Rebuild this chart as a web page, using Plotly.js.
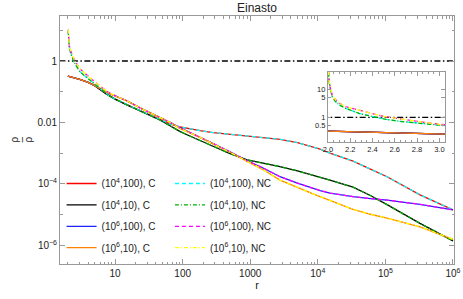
<!DOCTYPE html>
<html><head><meta charset="utf-8">
<script src="https://cdn.plot.ly/plotly-3.0.1.min.js"></script>
<style>html,body{margin:0;padding:0;background:#fff}#chart{width:463px;height:299px}</style>
</head><body><div id="chart"></div>
<script>
// ---- data ----
const rC = [2, 2.5, 3, 4, 5, 7.5, 10, 15, 25, 46, 65, 92, 130, 181, 282, 503, 897, 1500, 2760, 5000, 8490, 10800, 15100, 33200, 60000, 105700, 325000, 1000000];
const rho_1e4_100_C = [0.324, 0.288, 0.251, 0.200, 0.158, 0.0832, 0.0575, 0.0372, 0.0226, 0.0126, 0.00891, 0.00708, 0.00603, 0.00537, 0.00468, 0.00417, 0.00363, 0.00324, 0.00282, 0.00219, 0.00162, 0.00135, 0.00100, 0.000550, 0.000302, 0.000170, 0.0000437, 0.0000141];
const rho_1e4_10_C  = [0.324, 0.288, 0.251, 0.200, 0.158, 0.0832, 0.0575, 0.0372, 0.0226, 0.0120, 0.00776, 0.00501, 0.00355, 0.00257, 0.00166, 0.000955, 0.000603, 0.000479, 0.000363, 0.000263, 0.000191, 0.000166, 0.000132, 0.0000776, 0.0000417, 0.0000209, 0.00000513, 0.00000138];
const rho_1e6_100_C = [0.324, 0.288, 0.251, 0.200, 0.158, 0.0955, 0.0741, 0.0501, 0.0275, 0.0148, 0.0100, 0.00661, 0.00468, 0.00331, 0.00204, 0.00110, 0.000562, 0.000339, 0.000170, 0.000105, 0.0000708, 0.0000603, 0.0000501, 0.0000380, 0.0000331, 0.0000295, 0.0000214, 0.0000141];
const rho_1e6_10_C  = [0.324, 0.288, 0.251, 0.200, 0.158, 0.0955, 0.0741, 0.0501, 0.0275, 0.0148, 0.0100, 0.00631, 0.00457, 0.00324, 0.00200, 0.00107, 0.000537, 0.000302, 0.000132, 0.0000741, 0.0000468, 0.0000380, 0.0000288, 0.0000148, 0.0000102, 0.00000759, 0.00000398, 0.00000155];

// NC curves: steep rise towards r = 2, then they lie on the C curves (from r = 10 on)
const rNCin = [2.005, 2.01, 2.024, 2.039, 2.07, 2.1, 2.16, 2.22, 2.28, 2.4, 2.52, 2.64, 2.77, 2.9, 3.0, 3.5, 4, 5, 6, 8];
const rho_1e4_NCin = [39.8, 20.0, 9.44, 5.45, 3.61, 2.82, 2.09, 1.66, 1.38, 1.07, 0.851, 0.724, 0.617, 0.525, 0.457, 0.339, 0.263, 0.174, 0.126, 0.0759];
const rho_1e6_NCin = [44.7, 22.4, 10.5, 6.17, 4.17, 3.31, 2.40, 2.04, 1.82, 1.35, 1.05, 0.891, 0.741, 0.631, 0.562, 0.417, 0.316, 0.209, 0.151, 0.0955];
const joinAt = 6; // index of r = 10 in rC
const rNC = rNCin.concat(rC.slice(joinAt));
const rho_1e4_100_NC = rho_1e4_NCin.concat(rho_1e4_100_C.slice(joinAt));
const rho_1e4_10_NC  = rho_1e4_NCin.concat(rho_1e4_10_C.slice(joinAt));
const rho_1e6_100_NC = rho_1e6_NCin.concat(rho_1e6_100_C.slice(joinAt));
const rho_1e6_10_NC  = rho_1e6_NCin.concat(rho_1e6_10_C.slice(joinAt));

// reference level rho = 1
const refR = [1.5, 1100000];
const refRho = [1, 1];

const labelsC  = ['(10<sup>4</sup>,100), C', '(10<sup>4</sup>,10), C', '(10<sup>6</sup>,100), C', '(10<sup>6</sup>,10), C'];
const labelsNC = ['(10<sup>4</sup>,100), NC', '(10<sup>4</sup>,10), NC', '(10<sup>6</sup>,100), NC', '(10<sup>6</sup>,10), NC'];

const xTickVals = [10, 100, 1000, 10000, 100000, 1000000];
const xTickText = ['10', '100', '1000', '10<sup>4</sup>', '10<sup>5</sup>', '10<sup>6</sup>'];
const yTickVals = [1, 0.01, 0.0001, 0.000001];
const yTickText = ['1', '0.01', '10<sup>\u22124</sup>', '10<sup>\u22126</sup>'];
const yMinorVals = [10, 0.1, 0.001, 0.00001];
const insetXTicks = [2.0, 2.2, 2.4, 2.6, 2.8, 3.0];
const insetYTicks = [0.5, 1, 5, 10];
const insetYText = ['0.5', '1', '5', '10'];

// ---- styling ----
const colC = ['#ff0000', '#000000', '#2020ff', '#ff8000'];
const colNC = ['#00ffff', '#00b000', '#ff00ff', '#ffff00'];
const dashNC = ['4px,3px', '4px,2px,1px,2px', '4px,3px', '4px,2px,1px,2px'];
const seriesC = [rho_1e4_100_C, rho_1e4_10_C, rho_1e6_100_C, rho_1e6_10_C];
const seriesNC = [rho_1e4_100_NC, rho_1e4_10_NC, rho_1e6_100_NC, rho_1e6_10_NC];
const mainStart = 2; // main panel NC curves begin at r = 2.024

const xMinor = [];
for (let d = 1; d <= 100000; d *= 10) for (let k = 2; k <= 9; k++) xMinor.push(k * d);

const refDash = '6px,2.5px,1.5px,2.5px';
const traces = [];
traces.push({x: refR, y: refRho, mode: 'lines', line: {color: '#000', width: 1.3, dash: refDash}, showlegend: false, hoverinfo: 'skip'});
seriesC.forEach((s, i) => traces.push({x: rC, y: s, mode: 'lines', name: labelsC[i], legend: 'legend', legendgroup: 'c' + i,
  line: {color: colC[i], width: 1.3}}));
seriesNC.forEach((s, i) => traces.push({x: rNC.slice(mainStart), y: s.slice(mainStart), mode: 'lines', name: labelsNC[i], legend: 'legend2', legendgroup: 'n' + i,
  line: {color: colNC[i], width: 1.3, dash: dashNC[i]}}));
// inset
traces.push({x: refR, y: refRho, xaxis: 'x2', yaxis: 'y2', mode: 'lines', line: {color: '#000', width: 1.3, dash: refDash}, showlegend: false});
seriesC.forEach((s, i) => traces.push({x: rC, y: s, xaxis: 'x2', yaxis: 'y2', mode: 'lines', showlegend: false, line: {color: colC[i], width: 1.3}}));
seriesNC.forEach((s, i) => traces.push({x: rNC, y: s, xaxis: 'x2', yaxis: 'y2', mode: 'lines', showlegend: false, line: {color: colNC[i], width: 1.3, dash: dashNC[i]}}));

const axCol = '#999';
const fontFam = 'Liberation Sans, Arial, sans-serif';
const txtCol = '#222';

const layout = {
  width: 463, height: 299,
  margin: {l: 60, r: 9, t: 16, b: 35},
  paper_bgcolor: '#fff', plot_bgcolor: '#fff',
  font: {family: fontFam, size: 10, color: txtCol},
  title: {text: 'Einasto', font: {size: 12, color: txtCol}, x: 0.5, xref: 'paper', xanchor: 'center', y: 1 - 8 / 299, yref: 'container', yanchor: 'middle'},
  xaxis: {type: 'log', range: [0.185, 6.015], showline: true, linecolor: axCol, linewidth: 1, mirror: 'ticks',
    ticks: 'inside', ticklen: 5, tickcolor: axCol, tickmode: 'array', tickvals: xTickVals, ticktext: xTickText,
    minor: {tickmode: 'array', tickvals: xMinor, ticklen: 2.5, ticks: 'inside', tickcolor: axCol, showgrid: false},
    showgrid: false, zeroline: false, tickfont: {size: 10}, title: {text: 'r', font: {size: 11}, standoff: 2}},
  yaxis: {type: 'log', range: [-6.612, 1.466], showline: true, linecolor: axCol, linewidth: 1, mirror: 'ticks',
    ticks: 'inside', ticklen: 5, tickcolor: axCol, tickmode: 'array', tickvals: yTickVals, ticktext: yTickText,
    minor: {tickmode: 'array', tickvals: yMinorVals, ticklen: 2.5, ticks: 'inside', tickcolor: axCol, showgrid: false},
    showgrid: false, zeroline: false, tickfont: {size: 10}},
  xaxis2: {domain: [0.680, 0.977], anchor: 'y2', range: [2.0, 3.05], showline: true, linecolor: axCol, linewidth: 1, mirror: 'ticks',
    ticks: 'inside', ticklen: 3.5, tickcolor: axCol, tickmode: 'array', tickvals: insetXTicks, tickformat: '.1f',
    minor: {dtick: 0.05, ticklen: 2, ticks: 'inside', tickcolor: axCol, showgrid: false},
    showgrid: false, zeroline: false, tickfont: {size: 7.5}},
  yaxis2: {domain: [0.492, 0.774], anchor: 'x2', type: 'log', range: [-0.88, 1.62], showline: true, linecolor: axCol, linewidth: 1, mirror: 'ticks',
    ticks: 'inside', ticklen: 3.5, tickcolor: axCol, tickmode: 'array', tickvals: insetYTicks, ticktext: insetYText,
    showgrid: false, zeroline: false, tickfont: {size: 7.5}},
  legend: {x: 0.004, xanchor: 'left', y: 0.383, yanchor: 'top', bgcolor: 'rgba(0,0,0,0)', borderwidth: 0,
    font: {size: 10, color: txtCol}, traceorder: 'grouped', tracegroupgap: 2.4},
  legend2: {x: 0.279, xanchor: 'left', y: 0.383, yanchor: 'top', bgcolor: 'rgba(0,0,0,0)', borderwidth: 0,
    font: {size: 10, color: txtCol}, traceorder: 'grouped', tracegroupgap: 2.4},
  annotations: [
    {text: '\u03c1', xref: 'paper', yref: 'paper', x: (6 - 60) / 394, y: 0.5, textangle: -90, showarrow: false, font: {size: 10, color: txtCol}},
    {text: '\u2013', xref: 'paper', yref: 'paper', x: (13 - 60) / 394, y: 0.5, textangle: -90, showarrow: false, font: {size: 10, color: txtCol}},
    {text: '\u03c1', xref: 'paper', yref: 'paper', x: (20 - 60) / 394, y: 0.5, textangle: -90, showarrow: false, font: {size: 10, color: txtCol}}
  ],
  showlegend: true
};

Plotly.newPlot('chart', traces, layout, {displayModeBar: false, staticPlot: true});
</script>
</body></html>
